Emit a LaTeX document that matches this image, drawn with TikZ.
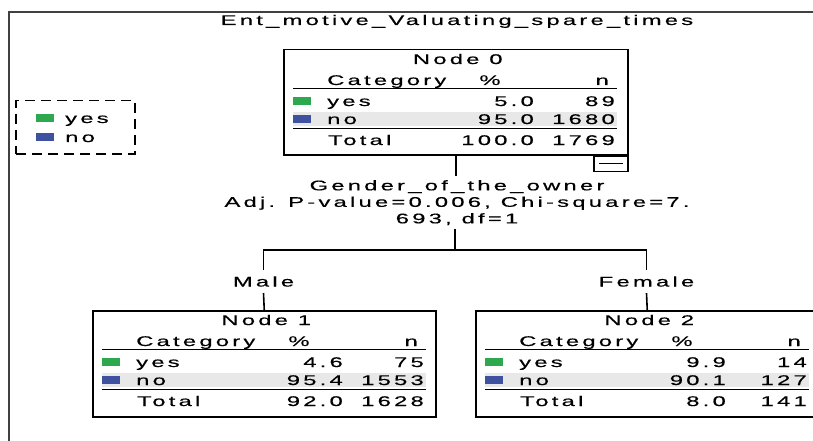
\documentclass[tikz,border=0pt]{standalone}
\usepackage{fontspec}
\usetikzlibrary{calc, positioning}
\newfontfamily\spss[FakeStretch=1.7, LetterSpace=23, FakeBold=0.4]{Liberation Sans}
\definecolor{catyes}{RGB}{46,168,78}
\definecolor{catno}{RGB}{62,82,160}
\definecolor{rowgrey}{RGB}{232,232,232}
\definecolor{framegrey}{RGB}{64,64,64}
\tikzset{
    lblbase/.style={font=\spss\fontsize{14}{16.5}\selectfont, inner sep=0pt},
    lbl/.style={lblbase, text height=10pt, text depth=0pt},
    statbox/.style={draw, line width=1.5pt, minimum width=343pt, minimum height=106pt, inner sep=0pt, anchor=north west},
    rule/.style={line width=1.2pt},
    link/.style={line width=1.6pt},
    swatch/.style={fill=#1, minimum width=18pt, minimum height=8pt, inner sep=0pt, anchor=west},
    legendbox/.style={draw, dashed, dash pattern=on 10pt off 6pt, line width=1.5pt, minimum width=119pt, minimum height=53pt, anchor=north west}
}

% rows of one tree node, measured from the box's top-left corner
\newcommand{\statrows}[8]{%
    \node[lbl] (#1-head) at ($(#1.north)+(2,10)$) {#2};
    \node[lbl, anchor=west] (#1-cat) at ($(#1.north west)+(44,31)$) {Category};
    \node[lbl] (#1-pct) at ($(#1.north west)+(207,31)$) {\%};
    \node[lbl, anchor=east] (#1-n) at ($(#1.north west)+(326,31)$) {n};
    \draw[rule] ($(#1.north west)+(10,39.5)$) -- ++(324,0);
    % yes
    \node[swatch=catyes] (#1-yesbox) at ($(#1.north west)+(10,52)$) {};
    \node[lbl, anchor=west] (#1-yes) at ($(#1.north west)+(44,52)$) {yes};
    \node[lbl, anchor=east] (#1-yespct) at ($(#1.north west)+(251,52)$) {#3};
    \node[lbl, anchor=east] (#1-yesn) at ($(#1.north west)+(332,52)$) {#4};
    % no
    \fill[rowgrey] ($(#1.north west)+(10,63)$) rectangle ++(324,14);
    \node[swatch=catno] (#1-nobox) at ($(#1.north west)+(10,70)$) {};
    \node[lbl, anchor=west] (#1-no) at ($(#1.north west)+(44,70)$) {no};
    \node[lbl, anchor=east] (#1-nopct) at ($(#1.north west)+(251,70)$) {#5};
    \node[lbl, anchor=east] (#1-non) at ($(#1.north west)+(332,70)$) {#6};
    \draw[rule] ($(#1.north west)+(10,79.5)$) -- ++(324,0);
    % total
    \node[lbl, anchor=west] (#1-total) at ($(#1.north west)+(45,91)$) {Total};
    \node[lbl, anchor=east] (#1-totpct) at ($(#1.north west)+(251,91)$) {#7};
    \node[lbl, anchor=east] (#1-totn) at ($(#1.north west)+(332,91)$) {#8};
}

\begin{document}
\begin{tikzpicture}[x=1pt, y=-1pt]

    \useasboundingbox (0,0) rectangle (813,441);
    \clip (0,0) rectangle (813,441);

    % frame and title
    \draw[framegrey, line width=2pt] (9,450) |- (820,12);
    \node[lbl] (title) at (457,20) {Ent\_motive\_Valuating\_spare\_times};

    % legend
    \node[legendbox] (legend) at (15,100) {};
    \node[swatch=catyes] (legend-yesbox) at ($(legend.north west)+(21,18)$) {};
    \node[lbl, anchor=west] (legend-yes) at ($(legend.north west)+(50,18)$) {yes};
    \node[swatch=catno] (legend-nobox) at ($(legend.north west)+(21,37)$) {};
    \node[lbl, anchor=west] (legend-no) at ($(legend.north west)+(50,37)$) {no};

    % Node 0
    \node[statbox, minimum width=344pt, minimum height=105pt] (n0) at (283,49) {};
    \statrows{n0}{Node 0}{5.0}{89}{95.0}{1680}{100.0}{1769}
    \node[draw, line width=1.5pt, minimum width=34pt, minimum height=15pt, inner sep=0pt, anchor=north east] (n0-toggle) at (n0.south east) {};
    \draw[line width=1.2pt] ($(n0-toggle.center)+(-12,0)$) -- ++(24,0);

    % split
    \node[lblbase, align=center, inner ysep=4pt, anchor=north] (split) at (457,176)
        {Gender\_of\_the\_owner\\Adj. P-value=0.006, Chi-square=7.\\693, df=1};
    \coordinate (fork) at (455,250);
    \node[lbl, inner ysep=6.5pt] (male) at (263.5,281.5) {Male};
    \node[lbl, inner ysep=6.5pt] (female) at (646.5,281.5) {Female};

    % Row 2
    \node[statbox] (n1) at (92,310) {};
    \statrows{n1}{Node 1}{4.6}{75}{95.4}{1553}{92.0}{1628}
    \node[statbox] (n2) at (475,310) {};
    \statrows{n2}{Node 2}{9.9}{14}{90.1}{127}{8.0}{141}

    % connectors
    \draw[link] (n0.south) -- (split.north -| n0.south);
    \draw[link] (split.south -| fork) -- (fork);
    \draw[link] (male.north) |- (fork) -| (female.north);
    \draw[link] (male.south) -- (n1.north);
    \draw[link] (female.south) -- (n2.north);

\end{tikzpicture}
\end{document}
